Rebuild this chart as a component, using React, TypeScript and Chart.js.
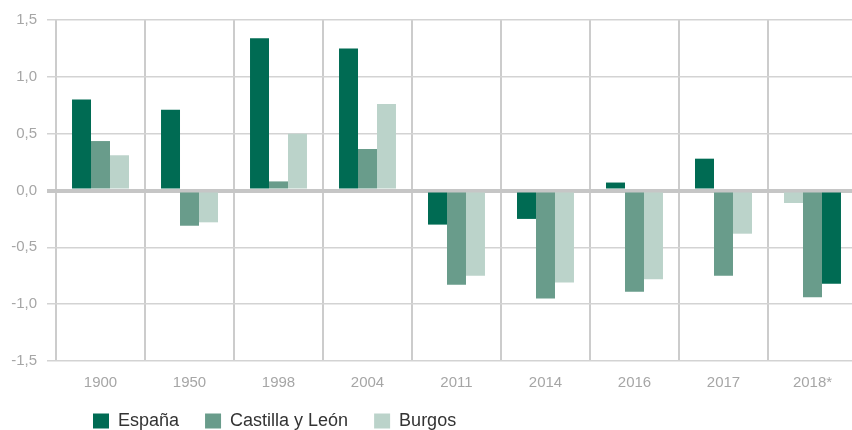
import React, { useEffect, useRef } from "react";
import { Chart, registerables } from "chart.js";

Chart.register(...registerables);

// ---- data ----
const categories = ["1900", "1950", "1998", "2004", "2011", "2014", "2016", "2017", "2018*"];
const espana = [0.8, 0.71, 1.34, 1.25, -0.3, -0.25, 0.07, 0.28, -0.82];
const castillaLeon = [0.435, -0.31, 0.08, 0.365, -0.83, -0.95, -0.89, -0.75, -0.94];
const burgos = [0.31, -0.28, 0.5, 0.76, -0.75, -0.81, -0.78, -0.38, -0.11];
const seriesNames = ["España", "Castilla y León", "Burgos"];
const seriesColors = ["#006b53", "#699c8b", "#bbd3ca"];
const yMin = -1.5;
const yMax = 1.5;
const yStep = 0.5;
// In the source chart the 2018* group is drawn in reverse order (Burgos first, España last)
const reversedCategories = ["2018*"];

const FONT = "'Liberation Sans', Arial, Helvetica, sans-serif";

const legendPlacement = {
  id: "legendPlacement",
  beforeDraw(chart: any) {
    const lg = chart.legend;
    if (lg) {
      const w = lg.width;
      const h = lg.height;
      lg.left = 67;
      lg.right = 67 + w;
      lg.top = 386;
      lg.bottom = 386 + h;
    }
  },
};

export default function App() {
  const ref = useRef<HTMLCanvasElement>(null);

  useEffect(() => {
    const canvas = ref.current;
    if (!canvas) return;

    const series = [espana, castillaLeon, burgos];
    const isRev = (i: number) => reversedCategories.includes(categories[i]);
    const slotSeries = (slot: number, i: number) => (isRev(i) ? 2 - slot : slot);

    const datasets = [0, 1, 2].map((slot) => ({
      label: seriesNames[slot],
      data: categories.map((_, i) => series[slotSeries(slot, i)][i]),
      backgroundColor: categories.map((_, i) => seriesColors[slotSeries(slot, i)]),
      borderWidth: 0,
      categoryPercentage: 0.64,
      barPercentage: 1.0,
    }));

    const gridColor = (ctx: any) => (ctx.tick && ctx.tick.value === 0 ? "#c6c6c6" : "#d3d3d3");
    const gridWidth = (ctx: any) => (ctx.tick && ctx.tick.value === 0 ? 4 : 1.5);

    const chart = new Chart(canvas, {
      type: "bar",
      data: { labels: categories, datasets },
      plugins: [legendPlacement],
      options: {
        responsive: false,
        animation: false,
        devicePixelRatio: 1,
        layout: { padding: { top: 20, left: 0, right: 0, bottom: -16 } },
        plugins: {
          tooltip: { enabled: false },
          title: { display: false },
          legend: {
            display: true,
            position: "bottom",
            align: "start",
            labels: {
              boxWidth: 16,
              boxHeight: 15,
              padding: 26,
              color: "#333333",
              font: { family: FONT, size: 18 },
              generateLabels: () =>
                seriesNames.map((name, i) => ({
                  text: name,
                  fillStyle: seriesColors[i],
                  strokeStyle: seriesColors[i],
                  lineWidth: 0,
                  hidden: false,
                  datasetIndex: i,
                  fontColor: "#333333",
                })),
            },
          },
        },
        scales: {
          x: {
            grid: {
              display: true,
              offset: true,
              drawTicks: false,
              color: "#cccccc",
              lineWidth: 2,
            },
            border: { display: false },
            ticks: {
              color: "#a6a6a6",
              font: { family: FONT, size: 15 },
              padding: 13,
              maxRotation: 0,
            },
            afterFit: (s: any) => {
              s.height = 31;
            },
          },
          y: {
            min: yMin,
            max: yMax,
            grid: {
              color: gridColor,
              lineWidth: gridWidth,
              drawTicks: true,
              tickLength: 9,
            },
            border: { display: false },
            ticks: {
              stepSize: yStep,
              color: "#a6a6a6",
              font: { family: FONT, size: 15 },
              padding: 10,
              callback: (v: any) => Number(v).toFixed(1).replace(".", ","),
            },
            afterFit: (s: any) => {
              s.width = 56;
            },
          },
          zero: {
            type: "linear",
            position: "right",
            min: yMin,
            max: yMax,
            z: 1,
            display: true,
            grid: {
              drawTicks: false,
              color: (ctx: any) => (ctx.tick && ctx.tick.value === 0 ? "#c6c6c6" : "rgba(0,0,0,0)"),
              lineWidth: 4,
            },
            border: { display: false },
            ticks: { display: false, stepSize: yStep },
            afterFit: (s: any) => {
              s.width = 0;
            },
          },
        },
      } as any,
    });

    return () => chart.destroy();
  }, []);

  return (
    <div
      style={{
        position: "fixed",
        left: 0,
        top: 0,
        width: 852,
        height: 430,
        overflow: "hidden",
        background: "#ffffff",
      }}
    >
      <canvas ref={ref} width={857} height={430} style={{ display: "block", width: 857, height: 430 }} />
    </div>
  );
}
